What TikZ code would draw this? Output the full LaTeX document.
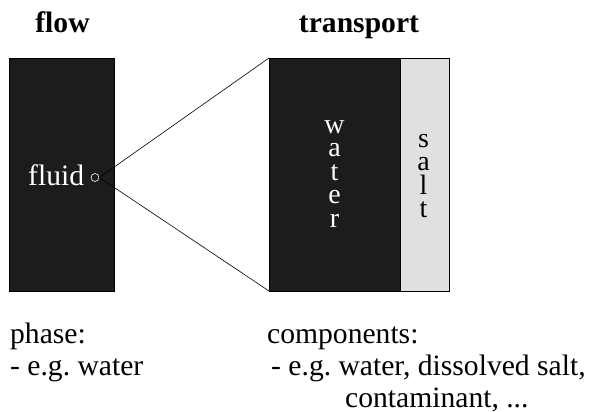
\documentclass[tikz,border=0pt]{standalone}
\usepackage{fontspec}
\setmainfont{Liberation Serif}
\begin{document}
\frenchspacing
\begin{tikzpicture}[x=1pt,y=-1pt,
  head/.style={font=\fontsize{29.6}{34}\selectfont\bfseries, inner sep=0pt, anchor=base},
  txt/.style={font=\fontsize{29.6}{34}\selectfont, inner sep=0pt, anchor=base west},
  letter/.style={font=\fontsize{28}{28}\selectfont, inner sep=0pt, anchor=base},
  darkbox/.style={draw=black, line width=0.6pt, fill=boxdark},
  lightbox/.style={draw=black, line width=0.6pt, fill=boxlight},
  conn/.style={draw=black, line width=0.6pt}
]
\definecolor{boxdark}{HTML}{1C1C1C}
\definecolor{boxlight}{HTML}{E0E0E0}
\useasboundingbox (0,0) rectangle (595,412);
% boxes
\path[darkbox] (9,58) rectangle (114,291);
\path[darkbox] (269,58) rectangle (400,291);
\path[lightbox] (400,58) rectangle (449,291);
\coordinate (tl) at (269,58);
\coordinate (bl) at (269,291);
% headings
\node[head] (flow) at (62.5,33) {flow};
\node[head] (transport) at (359,33) {transport};
% fluid
\node[txt, text=white] (fluid) at (28,185) {fluid};
\node[circle, draw=white, line width=0.6pt, inner sep=0pt, minimum size=8pt] (pt) at (95,177.5) {};
\draw[conn] (pt.east) -- (tl);
\draw[conn] (pt.east) -- (bl);
% vertical words
\foreach \ch/\yy [count=\i] in {w/133,a/156,t/180,e/203,r/227}
  \node[letter, text=white] (water\i) at (334.5,\yy) {\ch};
\foreach \ch/\yy [count=\i] in {s/147,a/170,l/194,t/217}
  \node[letter, text=black] (salt\i) at (423.5,\yy) {\ch};
% bottom text
\node[txt] (phase) at (10,343) {phase:};
\node[txt] (phasex) at (10,375) {- e.g. water};
\node[txt] (comp) at (267,343) {components:};
\node[txt] (compx) at (271,375) {- e.g. water, dissolved salt,};
\node[txt] (compy) at (345,407) {contaminant, ...};
\end{tikzpicture}
\end{document}
